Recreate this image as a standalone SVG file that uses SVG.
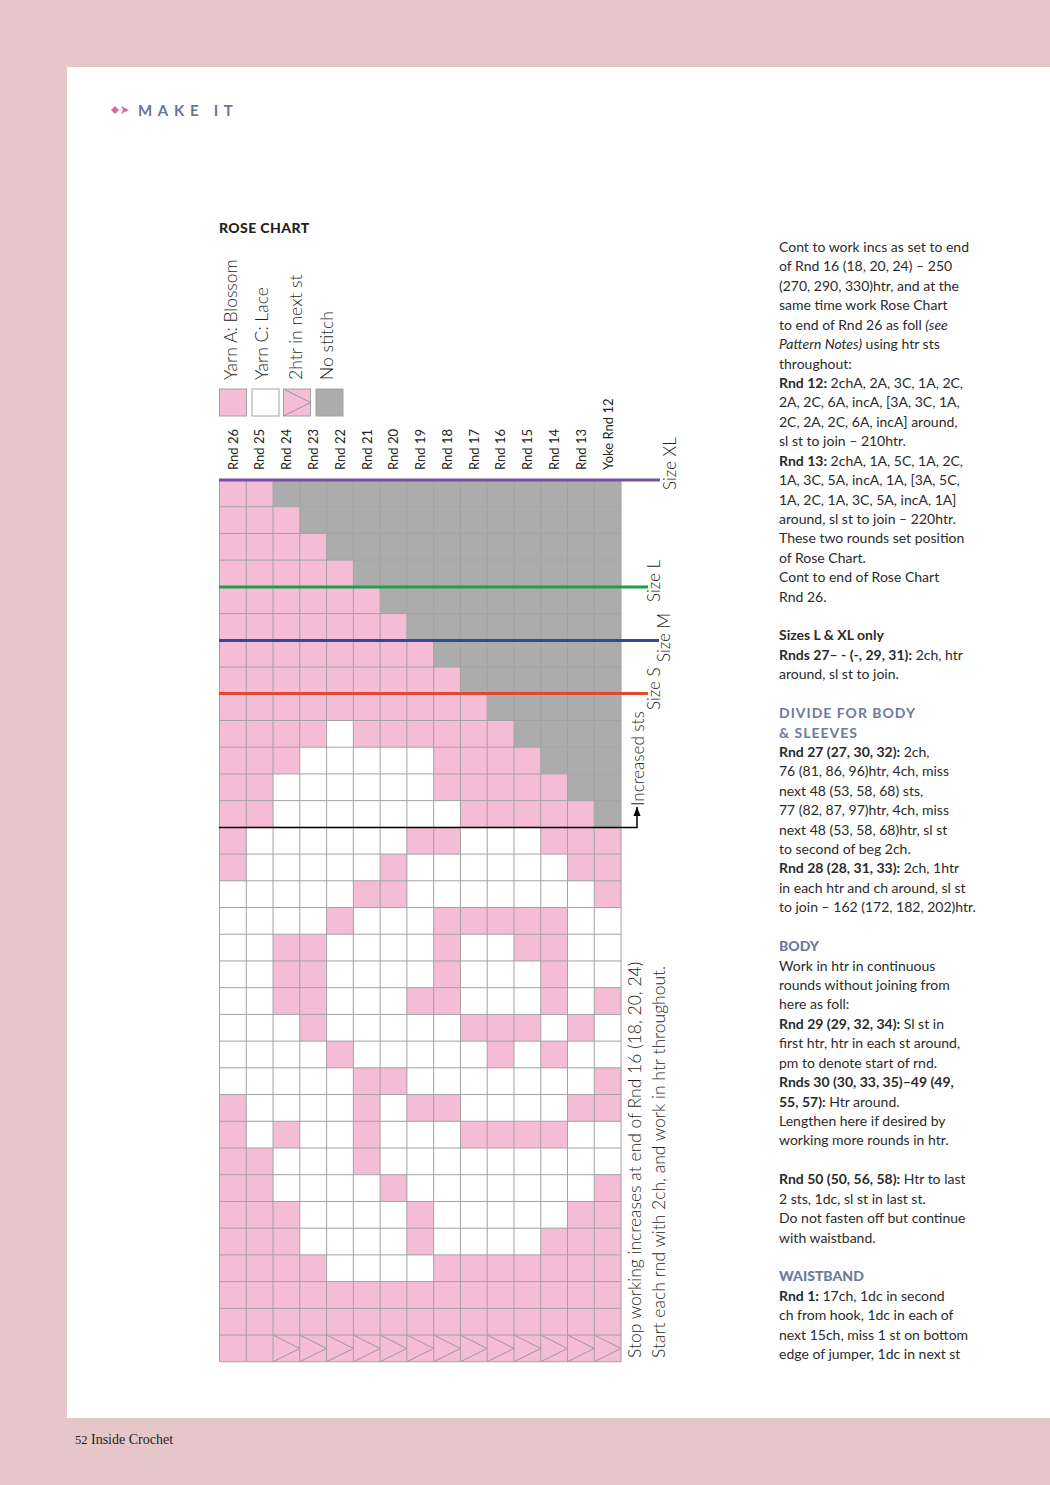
<svg xmlns="http://www.w3.org/2000/svg" width="1050" height="1485" viewBox="0 0 1050 1485">
<style>
.lbl{font-family:Lato,"Open Sans",sans-serif;fill:#231f20}
.hdr{font-size:13px}
.leg{font-size:17.5px;font-weight:300}
.sz{font-size:17px;font-weight:300}
.long{font-size:17.5px}
.body{font-family:Lato,"Open Sans",sans-serif;font-size:14px;fill:#2b2b2b}
.b{font-weight:700}
.i{font-style:italic}
.sec{font-family:Lato,"Open Sans",sans-serif;font-size:14px;font-weight:900;fill:#6c7a9e}
.pk{fill:#f5bcd6}
.gy{fill:#acacac}
.gl{fill:none;stroke:#a2a2a2;stroke-width:1;vector-effect:non-scaling-stroke}
.sym{fill:none;stroke:#9a9a9a;stroke-width:1;vector-effect:non-scaling-stroke}
</style>
<defs>
<marker id="arr" viewBox="0 0 10 10" refX="10" refY="5" markerWidth="6" markerHeight="6" orient="auto"><path d="M0,1 L10,5 L0,9 Z" fill="#000"/></marker>
</defs>
<rect width="1050" height="1485" fill="#e6c7c9"/>
<rect x="67" y="67" width="983" height="1351" fill="#fff"/>
<g id="header">
<path d="M111,110 L115,106 L119,110 L115,114 Z" fill="#d36f9f"/>
<path d="M121,106 L129,110 L121,114 L123,110 Z" fill="#d36f9f"/>
<text x="138" y="115.5" font-family="Lato,'Open Sans',sans-serif" font-size="15" font-weight="700" letter-spacing="5.7" fill="#6a7598">MAKE IT</text>
</g>
<text x="219" y="233" font-family="Lato,'Open Sans',sans-serif" font-size="14" font-weight="900" letter-spacing="0.4" fill="#231f20">ROSE CHART</text>
<g id="legend">
<rect x="219.5" y="389" width="27" height="27" fill="#f5bcd6" stroke="#a2a2a2"/>
<rect x="252" y="389" width="27" height="27" fill="#fff" stroke="#a2a2a2"/>
<rect x="283.5" y="389" width="27" height="27" fill="#f5bcd6" stroke="#a2a2a2"/>
<path d="M283.5,389 L310.5,402.5 L283.5,416" class="sym"/>
<rect x="316" y="389" width="27" height="27" fill="#acacac" stroke="#a2a2a2"/>
<text class="lbl leg" transform="translate(237,380) rotate(-90)">Yarn A: Blossom</text>
<text class="lbl leg" transform="translate(268,380) rotate(-90)">Yarn C: Lace</text>
<text class="lbl leg" transform="translate(302,380) rotate(-90)">2htr in next st</text>
<text class="lbl leg" transform="translate(333,380) rotate(-90)">No stitch</text>
</g>
<g id="col-labels" class="lbl hdr">
<text transform="translate(237.6,470) rotate(-90)">Rnd 26</text>
<text transform="translate(264.4,470) rotate(-90)">Rnd 25</text>
<text transform="translate(291.2,470) rotate(-90)">Rnd 24</text>
<text transform="translate(317.9,470) rotate(-90)">Rnd 23</text>
<text transform="translate(344.7,470) rotate(-90)">Rnd 22</text>
<text transform="translate(371.5,470) rotate(-90)">Rnd 21</text>
<text transform="translate(398.3,470) rotate(-90)">Rnd 20</text>
<text transform="translate(425.0,470) rotate(-90)">Rnd 19</text>
<text transform="translate(451.8,470) rotate(-90)">Rnd 18</text>
<text transform="translate(478.6,470) rotate(-90)">Rnd 17</text>
<text transform="translate(505.4,470) rotate(-90)">Rnd 16</text>
<text transform="translate(532.1,470) rotate(-90)">Rnd 15</text>
<text transform="translate(558.9,470) rotate(-90)">Rnd 14</text>
<text transform="translate(585.7,470) rotate(-90)">Rnd 13</text>
<text transform="translate(612.5,470) rotate(-90)">Yoke Rnd 12</text>
</g>
<g id="chart" transform="translate(219.5 480) scale(26.77 26.72)">
<rect width="15" height="33" fill="#fff"/>
<g class="pk">
<rect x="0" y="0" width="2" height="1"/>
<rect x="0" y="1" width="3" height="1"/>
<rect x="0" y="2" width="4" height="1"/>
<rect x="0" y="3" width="5" height="1"/>
<rect x="0" y="4" width="6" height="1"/>
<rect x="0" y="5" width="7" height="1"/>
<rect x="0" y="6" width="8" height="1"/>
<rect x="0" y="7" width="9" height="1"/>
<rect x="0" y="8" width="10" height="1"/>
<rect x="0" y="9" width="4" height="1"/><rect x="5" y="9" width="6" height="1"/>
<rect x="0" y="10" width="3" height="1"/><rect x="8" y="10" width="4" height="1"/>
<rect x="0" y="11" width="2" height="1"/><rect x="8" y="11" width="5" height="1"/>
<rect x="0" y="12" width="2" height="1"/><rect x="9" y="12" width="5" height="1"/>
<rect x="0" y="13" width="1" height="1"/><rect x="7" y="13" width="2" height="1"/><rect x="12" y="13" width="3" height="1"/>
<rect x="0" y="14" width="1" height="1"/><rect x="6" y="14" width="1" height="1"/><rect x="13" y="14" width="2" height="1"/>
<rect x="5" y="15" width="2" height="1"/><rect x="14" y="15" width="1" height="1"/>
<rect x="4" y="16" width="1" height="1"/><rect x="8" y="16" width="5" height="1"/>
<rect x="2" y="17" width="2" height="1"/><rect x="8" y="17" width="1" height="1"/><rect x="11" y="17" width="2" height="1"/>
<rect x="2" y="18" width="2" height="1"/><rect x="8" y="18" width="1" height="1"/><rect x="12" y="18" width="1" height="1"/>
<rect x="2" y="19" width="2" height="1"/><rect x="7" y="19" width="2" height="1"/><rect x="12" y="19" width="1" height="1"/><rect x="14" y="19" width="1" height="1"/>
<rect x="3" y="20" width="1" height="1"/><rect x="9" y="20" width="3" height="1"/><rect x="13" y="20" width="1" height="1"/>
<rect x="4" y="21" width="1" height="1"/><rect x="10" y="21" width="1" height="1"/><rect x="12" y="21" width="1" height="1"/>
<rect x="5" y="22" width="2" height="1"/><rect x="14" y="22" width="1" height="1"/>
<rect x="0" y="23" width="1" height="1"/><rect x="5" y="23" width="1" height="1"/><rect x="7" y="23" width="2" height="1"/><rect x="13" y="23" width="2" height="1"/>
<rect x="0" y="24" width="1" height="1"/><rect x="2" y="24" width="1" height="1"/><rect x="5" y="24" width="1" height="1"/><rect x="9" y="24" width="4" height="1"/>
<rect x="0" y="25" width="2" height="1"/><rect x="5" y="25" width="1" height="1"/>
<rect x="0" y="26" width="2" height="1"/><rect x="6" y="26" width="1" height="1"/><rect x="14" y="26" width="1" height="1"/>
<rect x="0" y="27" width="3" height="1"/><rect x="7" y="27" width="1" height="1"/><rect x="13" y="27" width="2" height="1"/>
<rect x="0" y="28" width="3" height="1"/><rect x="7" y="28" width="1" height="1"/><rect x="12" y="28" width="3" height="1"/>
<rect x="0" y="29" width="4" height="1"/><rect x="8" y="29" width="7" height="1"/>
<rect x="0" y="30" width="15" height="3"/>
</g>
<g class="gy">
<rect x="2" y="0" width="13" height="1"/>
<rect x="3" y="1" width="12" height="1"/>
<rect x="4" y="2" width="11" height="1"/>
<rect x="5" y="3" width="10" height="1"/>
<rect x="6" y="4" width="9" height="1"/>
<rect x="7" y="5" width="8" height="1"/>
<rect x="8" y="6" width="7" height="1"/>
<rect x="9" y="7" width="6" height="1"/>
<rect x="10" y="8" width="5" height="1"/>
<rect x="11" y="9" width="4" height="1"/>
<rect x="12" y="10" width="3" height="1"/>
<rect x="13" y="11" width="2" height="1"/>
<rect x="14" y="12" width="1" height="1"/>
</g>
<path class="sym" d="M2,32 L3,32.5 L2,33 M3,32 L4,32.5 L3,33 M4,32 L5,32.5 L4,33 M5,32 L6,32.5 L5,33 M6,32 L7,32.5 L6,33 M7,32 L8,32.5 L7,33 M8,32 L9,32.5 L8,33 M9,32 L10,32.5 L9,33 M10,32 L11,32.5 L10,33 M11,32 L12,32.5 L11,33 M12,32 L13,32.5 L12,33 M13,32 L14,32.5 L13,33 M14,32 L15,32.5 L14,33"/>
<path class="gl" d="M0,0V33M1,0V33M2,0V33M3,0V33M4,0V33M5,0V33M6,0V33M7,0V33M8,0V33M9,0V33M10,0V33M11,0V33M12,0V33M13,0V33M14,0V33M15,0V33
M0,0H15M0,1H15M0,2H15M0,3H15M0,4H15M0,5H15M0,6H15M0,7H15M0,8H15M0,9H15M0,10H15M0,11H15M0,12H15M0,13H15M0,14H15M0,15H15M0,16H15M0,17H15M0,18H15M0,19H15M0,20H15M0,21H15M0,22H15M0,23H15M0,24H15M0,25H15M0,26H15M0,27H15M0,28H15M0,29H15M0,30H15M0,31H15M0,32H15M0,33H15"/>
</g>
<g id="connectors">
<line x1="219" y1="480" x2="660" y2="480" stroke="#7453a3" stroke-width="3"/>
<line x1="219" y1="587" x2="648" y2="587" stroke="#1f9e4f" stroke-width="3"/>
<line x1="219" y1="640.5" x2="659" y2="640.5" stroke="#34489b" stroke-width="3"/>
<line x1="219" y1="693.5" x2="648" y2="693.5" stroke="#e2482f" stroke-width="3"/>
<path d="M219,827.4 H637 V807" fill="none" stroke="#000" stroke-width="1.5" marker-end="url(#arr)"/>
</g>
<g id="chart-labels" class="lbl sz">
<text transform="translate(676,490) rotate(-90)">Size XL</text>
<text transform="translate(660,602) rotate(-90)">Size L</text>
<text transform="translate(670,662) rotate(-90)">Size M</text>
<text transform="translate(660,710) rotate(-90)">Size S</text>
<text transform="translate(643.5,806) rotate(-90)">Increased sts</text>
<text class="long" transform="translate(641,1358) rotate(-90)">Stop working increases at end of Rnd 16 (18, 20, 24)</text>
<text class="long" transform="translate(665,1358) rotate(-90)">Start each rnd with 2ch, and work in htr throughout.</text>
</g>
<g id="instructions" class="body">
<text x="779" y="252">Cont to work incs as set to end</text>
<text x="779" y="271.4">of Rnd 16 (18, 20, 24) – 250</text>
<text x="779" y="290.8">(270, 290, 330)htr, and at the</text>
<text x="779" y="310.3">same time work Rose Chart</text>
<text x="779" y="329.7">to end of Rnd 26 as foll <tspan class="i">(see</tspan></text>
<text x="779" y="349.1"><tspan class="i">Pattern Notes)</tspan> using htr sts</text>
<text x="779" y="368.5">throughout:</text>
<text x="779" y="387.9"><tspan class="b">Rnd 12:</tspan> 2chA, 2A, 3C, 1A, 2C,</text>
<text x="779" y="407.4">2A, 2C, 6A, incA, [3A, 3C, 1A,</text>
<text x="779" y="426.8">2C, 2A, 2C, 6A, incA] around,</text>
<text x="779" y="446.2">sl st to join – 210htr.</text>
<text x="779" y="465.6"><tspan class="b">Rnd 13:</tspan> 2chA, 1A, 5C, 1A, 2C,</text>
<text x="779" y="485">1A, 3C, 5A, incA, 1A, [3A, 5C,</text>
<text x="779" y="504.5">1A, 2C, 1A, 3C, 5A, incA, 1A]</text>
<text x="779" y="523.9">around, sl st to join – 220htr.</text>
<text x="779" y="543.3">These two rounds set position</text>
<text x="779" y="562.7">of Rose Chart.</text>
<text x="779" y="582.1">Cont to end of Rose Chart</text>
<text x="779" y="601.6">Rnd 26.</text>
<text x="779" y="640.4" class="b">Sizes L &amp; XL only</text>
<text x="779" y="659.8"><tspan class="b">Rnds 27– - (-, 29, 31):</tspan> 2ch, htr</text>
<text x="779" y="679.2">around, sl st to join.</text>
<text x="779" y="718.1" class="sec" style="font-weight:700" letter-spacing="1">DIVIDE FOR BODY</text>
<text x="779" y="737.5" class="sec" style="font-weight:700" letter-spacing="1">&amp; SLEEVES</text>
<text x="779" y="756.9"><tspan class="b">Rnd 27 (27, 30, 32):</tspan> 2ch,</text>
<text x="779" y="776.3">76 (81, 86, 96)htr, 4ch, miss</text>
<text x="779" y="795.8">next 48 (53, 58, 68) sts,</text>
<text x="779" y="815.2">77 (82, 87, 97)htr, 4ch, miss</text>
<text x="779" y="834.6">next 48 (53, 58, 68)htr, sl st</text>
<text x="779" y="854">to second of beg 2ch.</text>
<text x="779" y="873.4"><tspan class="b">Rnd 28 (28, 31, 33):</tspan> 2ch, 1htr</text>
<text x="779" y="892.9">in each htr and ch around, sl st</text>
<text x="779" y="912.3">to join – 162 (172, 182, 202)htr.</text>
<text x="779" y="951.1" class="sec">BODY</text>
<text x="779" y="970.5">Work in htr in continuous</text>
<text x="779" y="990">rounds without joining from</text>
<text x="779" y="1009.4">here as foll:</text>
<text x="779" y="1028.8"><tspan class="b">Rnd 29 (29, 32, 34):</tspan> Sl st in</text>
<text x="779" y="1048.2">first htr, htr in each st around,</text>
<text x="779" y="1067.7">pm to denote start of rnd.</text>
<text x="779" y="1087.1"><tspan class="b">Rnds 30 (30, 33, 35)–49 (49,</tspan></text>
<text x="779" y="1106.5"><tspan class="b">55, 57):</tspan> Htr around.</text>
<text x="779" y="1125.9">Lengthen here if desired by</text>
<text x="779" y="1145.3">working more rounds in htr.</text>
<text x="779" y="1184.2"><tspan class="b">Rnd 50 (50, 56, 58):</tspan> Htr to last</text>
<text x="779" y="1203.6">2 sts, 1dc, sl st in last st.</text>
<text x="779" y="1223">Do not fasten off but continue</text>
<text x="779" y="1242.5">with waistband.</text>
<text x="779" y="1281.3" class="sec">WAISTBAND</text>
<text x="779" y="1300.7"><tspan class="b">Rnd 1:</tspan> 17ch, 1dc in second</text>
<text x="779" y="1320.1">ch from hook, 1dc in each of</text>
<text x="779" y="1339.6">next 15ch, miss 1 st on bottom</text>
<text x="779" y="1359">edge of jumper, 1dc in next st</text>
</g>
<text x="75" y="1444" font-family="'Liberation Serif',serif" font-size="14" fill="#231f20"><tspan font-size="12.5">52</tspan>  Inside Crochet</text>
</svg>
